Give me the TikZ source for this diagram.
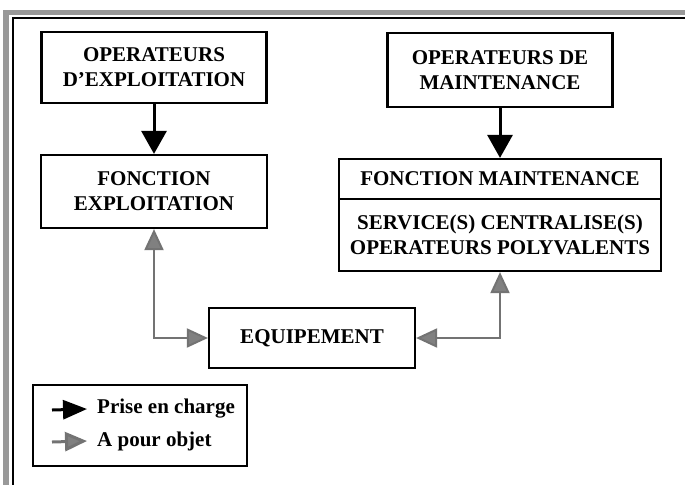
\documentclass[tikz,border=0pt]{standalone}
\usepackage{fontspec}
\setmainfont{Liberation Serif}
\usetikzlibrary{arrows.meta}
\begin{document}
\begin{tikzpicture}[
    x=1pt, y=-1pt,
    every node/.style = {font=\fontsize{21}{25}\selectfont\bfseries},
    boite/.style = {shape=rectangle, draw, line width=2.2pt, align=center, inner sep=0pt},
    legtxt/.style = {anchor=west, inner sep=0pt},
    charge/.style = {line width=3pt, -{Triangle[length=23pt,width=25pt]}},
    objet/.style = {draw=black!55, line width=2pt, {Triangle[length=21pt,width=19pt,fill=black!50]}-{Triangle[length=21pt,width=19pt,fill=black!50]}},
    objetleg/.style = {draw=black!55, line width=3pt, -{Triangle[length=22pt,width=19pt,fill=black!50]}}
  ]
\useasboundingbox (0,0) rectangle (685,485);
% cadre
\fill[black!40] (3,10) rectangle (685,15);
\fill[black!40] (3,10) rectangle (9,485);
\draw[line width=2pt] (12,18) -- (685,18);
\draw[line width=2pt] (13,18) -- (13,485);

\node[boite, minimum width=225pt, minimum height=71pt] (opex) at (154,67.5) {OPERATEURS\\D'EXPLOITATION};
\node[boite, minimum width=226pt, minimum height=73pt] (fex) at (154,191.5) {FONCTION\\EXPLOITATION};
\node[boite, minimum width=225pt, minimum height=74pt] (opmt) at (500,70) {OPERATEURS DE\\MAINTENANCE};
\node[boite, minimum width=322pt, minimum height=40pt] (fmt) at (500,179) {FONCTION MAINTENANCE};
\node[boite, minimum width=322pt, minimum height=72pt] (svc) at (500,235) {SERVICE(S) CENTRALISE(S)\\OPERATEURS POLYVALENTS};
\node[boite, minimum width=206pt, minimum height=60pt] (equip) at (312,338) {EQUIPEMENT};

\draw[charge] (opex) -- (fex);
\draw[charge] (opmt) -- (fmt);
\draw[objet] (fex.south) |- (equip.west);
\draw[objet] (equip.east) -| (svc.south);

% legende
\node[boite, minimum width=214pt, minimum height=81pt] (legende) at (140,425.5) {};
\node[legtxt] (lg1) at (97,409) {Prise en charge};
\node[legtxt] (lg2) at (97,441) {A pour objet};
\coordinate (k1) at (52,410);
\coordinate (k2) at (52,442);
\draw[charge, -{Triangle[length=24pt,width=19pt]}] (k1) -- ([xshift=-10pt]lg1.west);
\draw[objetleg] (k2) -- ([xshift=-10pt]lg2.west);
\end{tikzpicture}
\end{document}
